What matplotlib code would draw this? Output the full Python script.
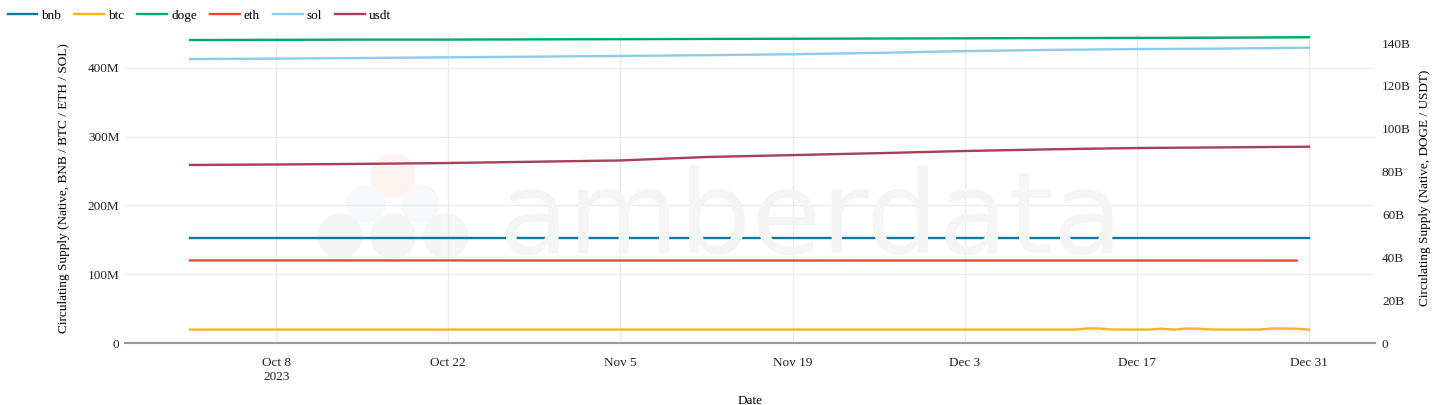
import matplotlib
matplotlib.use("Agg")
import matplotlib.pyplot as plt
from matplotlib.patches import Ellipse
from matplotlib.ticker import FuncFormatter
import pandas as pd

# weekly samples (Oct 1 .. Dec 31, 2023)
weekly_dates = pd.to_datetime([
    "2023-10-01", "2023-10-08", "2023-10-15", "2023-10-22", "2023-10-29",
    "2023-11-05", "2023-11-12", "2023-11-19", "2023-11-26", "2023-12-03",
    "2023-12-10", "2023-12-17", "2023-12-24", "2023-12-31",
])
doge_b = [141.4, 141.5, 141.6, 141.6, 141.7, 141.8, 141.9, 142.0, 142.1, 142.2,
          142.3, 142.4, 142.5, 142.7]
sol_m = [413.0, 413.6, 414.5, 415.5, 416.5, 417.5, 418.6, 420.0, 422.0, 424.5,
         426.3, 427.5, 428.2, 429.5]
usdt_b = [83.1, 83.3, 83.6, 84.0, 84.6, 85.2, 86.8, 87.7, 88.6, 89.6,
          90.4, 91.0, 91.3, 91.6]

bnb_dates = pd.to_datetime(["2023-10-01", "2023-12-31"])
bnb_m = [153.2, 153.2]
eth_dates = pd.to_datetime(["2023-10-01", "2023-12-30"])
eth_m = [120.1, 119.9]

btc_dates = pd.to_datetime(
    ["2023-10-01", "2023-11-15"]
    + ["2023-12-%02d" % d for d in range(10, 32)])
btc_m = [19.5, 19.5,
         19.5, 19.5, 19.5, 21.2, 21.1, 19.6, 19.5, 19.5, 19.5, 20.9, 19.4,
         21.0, 20.9, 19.6, 19.5, 19.5, 19.5, 19.6, 21.1, 21.1, 20.8, 19.5]

x_ticks = pd.to_datetime(["2023-10-08", "2023-10-22", "2023-11-05", "2023-11-19",
                          "2023-12-03", "2023-12-17", "2023-12-31"])
x_tick_labels = ["Oct 8\n2023", "Oct 22", "Nov 5", "Nov 19", "Dec 3", "Dec 17", "Dec 31"]

colors = {
    "bnb": "#13769b",
    "btc": "#ffb31a",
    "doge": "#00a86b",
    "eth": "#f44336",
    "sol": "#8ccbea",
    "usdt": "#a83f58",
}

plt.rcParams["font.family"] = ["Liberation Serif", "DejaVu Serif"]

fig = plt.figure(figsize=(14.34, 4.05), dpi=100)
ax = fig.add_axes([125 / 1434, 1 - 343 / 405, 1250 / 1434, (343 - 33.6) / 405])
ax.set_facecolor("none")
ax2 = ax.twinx()
ax2.set_facecolor("none")

# watermark
fig.text(0.565, 1 - 253 / 405, "amberdata", family="DejaVu Sans", fontsize=82,
         color="#f5f5f5", ha="center", va="baseline", zorder=0)
for cx, cy, r, c in [(393, 176, 22, "#fef3f1"), (366, 204, 19, "#f7f8fa"),
                     (420, 204, 19, "#f7f8fa"), (340, 236, 22, "#f5f5f5"),
                     (393, 236, 22, "#f5f5f5"), (446, 236, 22, "#f5f5f5")]:
    fig.add_artist(Ellipse((cx / 1434, 1 - cy / 405), 2 * r / 1434, 2 * r / 405,
                           color=c, zorder=0))

lw = 1.7
h_bnb, = ax.plot(bnb_dates, bnb_m, color=colors["bnb"], lw=lw, label="bnb")
h_btc, = ax.plot(btc_dates, btc_m, color=colors["btc"], lw=lw, label="btc")
h_doge, = ax2.plot(weekly_dates, doge_b, color=colors["doge"], lw=lw, label="doge")
h_eth, = ax.plot(eth_dates, eth_m, color=colors["eth"], lw=lw, label="eth")
h_sol, = ax.plot(weekly_dates, sol_m, color=colors["sol"], lw=lw, label="sol")
h_usdt, = ax2.plot(weekly_dates, usdt_b, color=colors["usdt"], lw=lw, label="usdt")

ax.set_ylim(0, 450)
ax2.set_ylim(0, 144.4)
ax.set_xlim(pd.Timestamp("2023-09-25 17:00"), pd.Timestamp("2024-01-05 09:00"))

ax.set_yticks([0, 100, 200, 300, 400])
ax.yaxis.set_major_formatter(FuncFormatter(lambda v, p: "0" if v == 0 else "%dM" % v))
ax2.set_yticks([0, 20, 40, 60, 80, 100, 120, 140])
ax2.yaxis.set_major_formatter(FuncFormatter(lambda v, p: "0" if v == 0 else "%dB" % v))
ax.set_xticks(x_ticks)
ax.set_xticklabels(x_tick_labels)

ax.grid(True, color="#ebebeb", lw=1)
ax.set_axisbelow(True)
for a in (ax, ax2):
    for s in ("top", "left", "right"):
        a.spines[s].set_visible(False)
    a.spines["bottom"].set_color("#9a9a9a")
    a.spines["bottom"].set_linewidth(1.5)
    a.tick_params(length=0, labelsize=9.5, colors="#222222")
ax.tick_params(axis="y", pad=4)
ax2.tick_params(axis="y", pad=5)
ax.tick_params(axis="x", pad=10)
ax2.spines["bottom"].set_visible(False)

ax.set_ylabel("Circulating Supply (Native, BNB / BTC / ETH / SOL)", fontsize=9.5, labelpad=13)
ax2.set_ylabel("Circulating Supply (Native, DOGE / USDT)", fontsize=9.5, labelpad=6)
ax.set_xlabel("Date", fontsize=9.5, labelpad=9)

fig.legend(handles=[h_bnb, h_btc, h_doge, h_eth, h_sol, h_usdt], loc="upper left",
           bbox_to_anchor=(-0.002, 1.003), ncol=6, frameon=False, fontsize=9.5,
           handlelength=2.25, handletextpad=0.3, columnspacing=1.0, borderpad=0.3)

fig.savefig("out.png", dpi=100)
